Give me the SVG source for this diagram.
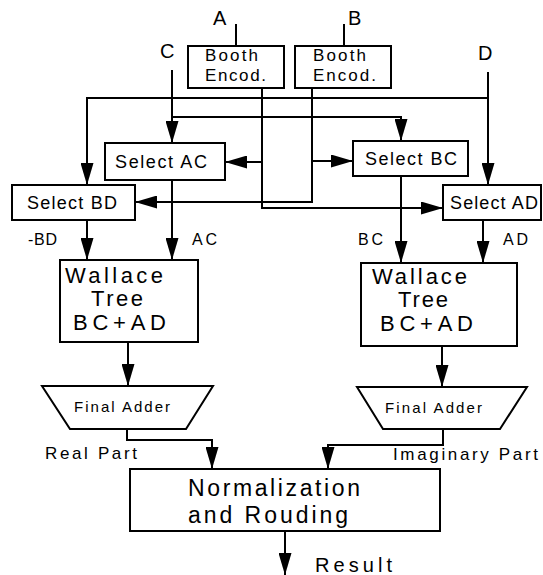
<svg xmlns="http://www.w3.org/2000/svg" width="543" height="575" viewBox="0 0 543 575">
<style>
.box{fill:#fff;stroke:#000;stroke-width:2}
.ln{fill:none;stroke:#000;stroke-width:2}
text{font-family:"Liberation Sans",Arial,sans-serif;fill:#000}
.io{font-size:20px}
.be{font-size:17px}
.sel{font-size:18px}
.lab{font-size:16px}
.wt{font-size:22px}
.fa{font-size:15px}
.part{font-size:17px}
.nr{font-size:23px}
</style>
<defs>
<marker id="ah" markerUnits="userSpaceOnUse" markerWidth="22" markerHeight="13" refX="22" refY="6.5" orient="auto">
<path d="M0,0 L22,6.5 L0,13 z" fill="#000"/>
</marker>
</defs>
<rect width="543" height="575" fill="#fff"/>
<g id="connectors">
<path class="ln" d="M236,24 V46"/>
<path class="ln" d="M344,24 V46"/>
<path class="ln" d="M172,70 V143" marker-end="url(#ah)"/>
<path class="ln" d="M172,117 H401 V141" marker-end="url(#ah)"/>
<path class="ln" d="M488,72 V185" marker-end="url(#ah)"/>
<path class="ln" d="M488,98 H87 V185" marker-end="url(#ah)"/>
<path class="ln" d="M262,88 V208 H443" marker-end="url(#ah)"/>
<path class="ln" d="M262,162 H225" marker-end="url(#ah)"/>
<path class="ln" d="M312,88 V202 H135" marker-end="url(#ah)"/>
<path class="ln" d="M312,161 H353" marker-end="url(#ah)"/>
<path class="ln" d="M87,220 V260" marker-end="url(#ah)"/>
<path class="ln" d="M172,180 V260" marker-end="url(#ah)"/>
<path class="ln" d="M401,176 V263" marker-end="url(#ah)"/>
<path class="ln" d="M483,220 V263" marker-end="url(#ah)"/>
<path class="ln" d="M128,342 V386" marker-end="url(#ah)"/>
<path class="ln" d="M442,346 V387" marker-end="url(#ah)"/>
<path class="ln" d="M127,429 V440 H212 V469" marker-end="url(#ah)"/>
<path class="ln" d="M443,429 V445 H328 V469" marker-end="url(#ah)"/>
<path class="ln" d="M285,531 V575" marker-end="url(#ah)"/>
</g>
<g id="inputs">
<text class="io" x="213" y="25">A</text>
<text class="io" x="348" y="25">B</text>
<text class="io" x="160" y="58">C</text>
<text class="io" x="478" y="60">D</text>
</g>
<g id="booth1">
<rect class="box" x="188" y="46" width="96" height="42"/>
<text class="be" x="205" y="61" textLength="53" lengthAdjust="spacing">Booth</text>
<text class="be" x="205" y="81" textLength="61" lengthAdjust="spacing">Encod.</text>
</g>
<g id="booth2">
<rect class="box" x="295" y="46" width="96" height="42"/>
<text class="be" x="313" y="61" textLength="53" lengthAdjust="spacing">Booth</text>
<text class="be" x="313" y="81" textLength="63" lengthAdjust="spacing">Encod.</text>
</g>
<g id="selectAC">
<rect class="box" x="105" y="143" width="120" height="37"/>
<text class="sel" x="115" y="168" textLength="92" lengthAdjust="spacing">Select AC</text>
</g>
<g id="selectBC">
<rect class="box" x="353" y="141" width="115" height="35"/>
<text class="sel" x="365" y="165" textLength="92" lengthAdjust="spacing">Select BC</text>
</g>
<g id="selectBD">
<rect class="box" x="12" y="185" width="123" height="35"/>
<text class="sel" x="27" y="209" textLength="90" lengthAdjust="spacing">Select BD</text>
</g>
<g id="selectAD">
<rect class="box" x="443" y="185" width="98" height="35"/>
<text class="sel" x="450" y="209" textLength="88" lengthAdjust="spacing">Select AD</text>
</g>
<g id="labels">
<text class="lab" x="28" y="245" textLength="29" lengthAdjust="spacing">-BD</text>
<text class="lab" x="192" y="245" textLength="25" lengthAdjust="spacing">AC</text>
<text class="lab" x="358" y="245" textLength="25" lengthAdjust="spacing">BC</text>
<text class="lab" x="503" y="245" textLength="25" lengthAdjust="spacing">AD</text>
</g>
<g id="wallaceL">
<rect class="box" x="60" y="260" width="138" height="82"/>
<text class="wt" x="65" y="283" textLength="98" lengthAdjust="spacing">Wallace</text>
<text class="wt" x="91" y="306" textLength="52" lengthAdjust="spacing">Tree</text>
<text class="wt" x="73" y="330" textLength="93" lengthAdjust="spacing">BC+AD</text>
</g>
<g id="wallaceR">
<rect class="box" x="361" y="263" width="156" height="83"/>
<text class="wt" x="372" y="284" textLength="95" lengthAdjust="spacing">Wallace</text>
<text class="wt" x="398" y="307" textLength="50" lengthAdjust="spacing">Tree</text>
<text class="wt" x="380" y="331" textLength="93" lengthAdjust="spacing">BC+AD</text>
</g>
<g id="adderL">
<polygon class="box" points="42,386 213,386 186,429 70,429"/>
<text class="fa" x="74" y="412" textLength="96" lengthAdjust="spacing">Final Adder</text>
</g>
<g id="adderR">
<polygon class="box" points="357,387 527,387 500,429 383,429"/>
<text class="fa" x="385" y="413" textLength="97" lengthAdjust="spacing">Final Adder</text>
</g>
<g id="partlabels">
<text class="part" x="45" y="459" textLength="92" lengthAdjust="spacing">Real Part</text>
<text class="part" x="393" y="460" textLength="145" lengthAdjust="spacing">Imaginary Part</text>
</g>
<g id="normalization">
<rect class="box" x="130" y="469" width="310" height="62"/>
<text class="nr" x="188" y="496" textLength="172" lengthAdjust="spacing">Normalization</text>
<text class="nr" x="188" y="523" textLength="160" lengthAdjust="spacing">and Rouding</text>
</g>
<g id="result">
<text class="nr" x="315" y="572" style="font-size:20px" textLength="77" lengthAdjust="spacing">Result</text>
</g>
</svg>
